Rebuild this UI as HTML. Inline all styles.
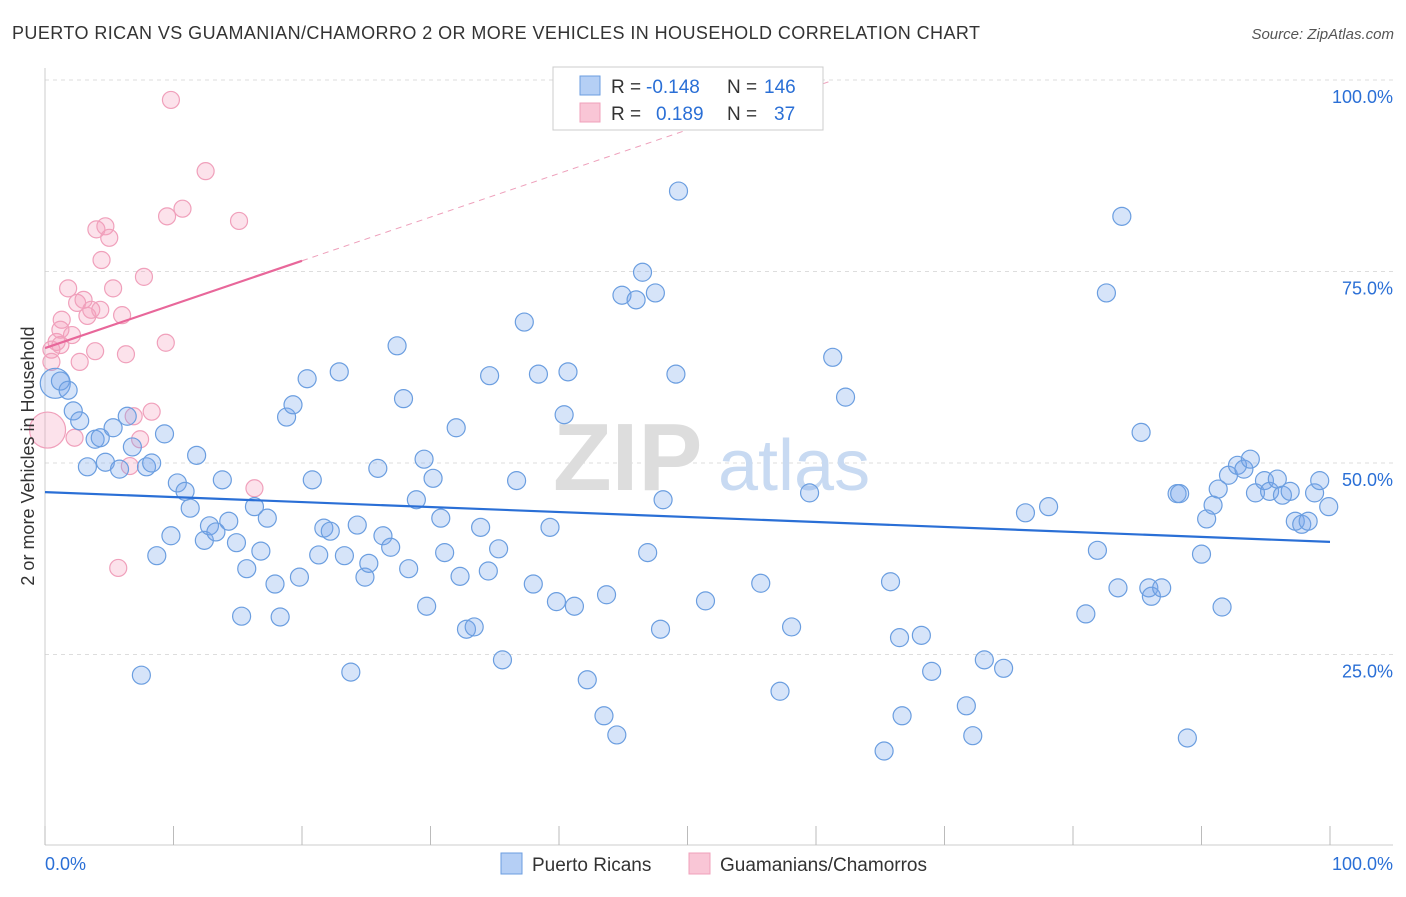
<!DOCTYPE html>
<html><head><meta charset="utf-8">
<style>
body{margin:0;background:#fff;font-family:"Liberation Sans",sans-serif;}
svg text{font-family:"Liberation Sans",sans-serif;}
</style></head>
<body>
<svg id="chart" width="1406" height="892" xmlns="http://www.w3.org/2000/svg">
<text x="12" y="39" font-size="18" fill="#333" textLength="968" lengthAdjust="spacing">PUERTO RICAN VS GUAMANIAN/CHAMORRO 2 OR MORE VEHICLES IN HOUSEHOLD CORRELATION CHART</text>
<text x="1394" y="39" font-size="15" fill="#555" text-anchor="end" font-style="italic">Source: ZipAtlas.com</text>
<g id="grid"></g>
<g><text x="553" y="490" font-size="96" fill="#ddd" font-family="Liberation Serif" font-weight="bold">ZIP</text><text x="718" y="490" font-size="72" fill="#c8daf2">atlas</text></g>
<line x1="45" y1="845" x2="1393" y2="845" stroke="#ccc"/>
<line x1="45" y1="68" x2="45" y2="845" stroke="#ccc"/>
<g id="ticks"></g>
<g id="pts"></g>
<g id="lines"></g>
<text transform="translate(34,456) rotate(-90)" font-size="18" fill="#333" text-anchor="middle">2 or more Vehicles in Household</text>
<text x="45" y="870" font-size="18" fill="#2a6fd6">0.0%</text>
<text x="1393" y="870" font-size="18" fill="#2a6fd6" text-anchor="end">100.0%</text>
<g>
<rect x="553" y="67" width="270" height="63" fill="#fff" stroke="#ccc"/>
<rect x="580" y="76" width="20" height="19" fill="#b5cff5" stroke="#6b9ee0"/>
<rect x="580" y="103" width="20" height="19" fill="#f9c6d6" stroke="#f0a0bb"/>
<text x="611" y="93" font-size="19" fill="#333">R =</text><text x="646" y="93" font-size="19" fill="#2a6fd6">-0.148</text>
<text x="727" y="93" font-size="19" fill="#333">N =</text><text x="764" y="93" font-size="19" fill="#2a6fd6">146</text>
<text x="611" y="120" font-size="19" fill="#333">R =</text><text x="656" y="120" font-size="19" fill="#2a6fd6">0.189</text>
<text x="727" y="120" font-size="19" fill="#333">N =</text><text x="774" y="120" font-size="19" fill="#2a6fd6">37</text>
</g>
<g><rect x="501" y="853" width="21" height="21" fill="#b5cff5" stroke="#6b9ee0"/><text x="532" y="871" font-size="19" fill="#333">Puerto Ricans</text></g>
<g><rect x="689" y="853" width="21" height="21" fill="#f9c6d6" stroke="#f0a0bb"/><text x="720" y="871" font-size="19" fill="#333">Guamanians/Chamorros</text></g>
</svg>
<script>
const blueX=[0.8,1.2,1.8,2.2,2.7,3.3,3.9,4.3,4.7,5.3,5.8,6.4,6.8,7.5,7.9,8.3,8.7,9.3,9.8,10.3,10.9,11.3,11.8,12.4,12.8,13.3,13.8,14.3,14.9,15.3,15.7,16.3,16.8,17.3,17.9,18.3,18.8,19.3,19.8,20.4,20.8,21.7,22.2,21.3,22.9,23.3,23.8,24.3,24.9,25.2,25.9,26.3,26.9,27.4,27.9,28.3,28.9,29.5,29.7,30.2,30.8,31.1,32.0,32.3,32.8,33.4,33.9,34.5,34.6,35.3,35.6,36.7,37.3,38.0,38.4,39.3,39.8,40.4,40.7,41.2,42.2,43.5,43.7,44.5,44.9,46.0,46.5,46.9,47.5,47.9,48.1,49.1,49.3,51.4,55.7,57.2,58.1,59.5,61.3,62.3,65.3,65.8,66.5,66.7,68.2,69.0,71.7,72.2,73.1,74.6,76.3,78.1,81.0,81.9,82.6,83.5,83.8,85.3,85.9,86.1,86.9,88.1,88.3,88.9,90.0,90.4,90.9,91.3,91.6,92.1,92.8,93.3,93.8,94.2,94.9,95.3,95.9,96.3,96.9,97.3,97.8,98.3,98.8,99.2,99.9];
const blueY=[60.4,60.7,59.5,56.8,55.5,49.5,53.1,53.3,50.1,54.6,49.2,56.1,52.1,22.3,49.5,50.0,37.9,53.8,40.5,47.4,46.3,44.1,51.0,39.9,41.8,41.0,47.8,42.4,39.6,30.0,36.2,44.3,38.5,42.8,34.2,29.9,56.0,57.6,35.1,61.0,47.8,41.5,41.1,38.0,61.9,37.9,22.7,41.9,35.1,36.9,49.3,40.5,39.0,65.3,58.4,36.2,45.2,50.5,31.3,48.0,42.8,38.3,54.6,35.2,28.3,28.6,41.6,35.9,61.4,38.8,24.3,47.7,68.4,34.2,61.6,41.6,31.9,56.3,61.9,31.3,21.7,17.0,32.8,14.5,71.9,71.3,74.9,38.3,72.2,28.3,45.2,61.6,85.5,32.0,34.3,20.2,28.6,46.1,63.8,58.6,12.4,34.5,27.2,17.0,27.5,22.8,18.3,14.4,24.3,23.2,43.5,44.3,30.3,38.6,72.2,33.7,82.2,54.0,33.7,32.6,33.7,46.0,46.0,14.1,38.1,42.7,44.5,46.6,31.2,48.4,49.7,49.2,50.5,46.1,47.7,46.3,47.9,45.8,46.3,42.4,42.0,42.4,46.1,47.7,44.3];
const pinkX=[0.2,0.5,0.9,1.2,1.3,1.8,2.1,2.5,2.7,3.0,3.3,3.6,3.9,4.0,4.3,4.4,4.7,5.0,5.3,5.7,6.0,6.3,6.6,6.9,7.4,7.7,8.3,9.4,9.5,9.8,10.7,12.5,15.1,16.3,2.3,0.5,1.2];
const pinkY=[54.3,64.8,65.8,65.4,68.7,72.8,66.7,70.9,63.2,71.3,69.2,70.0,64.6,80.5,70.0,76.5,80.9,79.4,72.8,36.3,69.3,64.2,49.6,56.1,53.1,74.3,56.7,65.7,82.2,97.4,83.2,88.1,81.6,46.7,53.3,63.2,67.4];
const yTicks=[25,50,75,100];
const yTickLabels=["25.0%","50.0%","75.0%","100.0%"];
const xTicks=[0,10,20,30,40,50,60,70,80,90,100];
const blueTrend=[46.2,39.7];
const pinkTrend=[65.0,76.4];
const NS="http://www.w3.org/2000/svg";
const sx=v=>45+v*12.85, sy=v=>846-v*7.66;
function mk(tag,attrs,parent){const e=document.createElementNS(NS,tag);for(const k in attrs)e.setAttribute(k,attrs[k]);parent.appendChild(e);return e;}
const grid=document.getElementById('grid');
yTicks.forEach((t,i)=>{
 const l=mk('line',{x1:45,x2:1393,y1:sy(t),y2:sy(t),stroke:'#ddd','stroke-dasharray':'4,4'},grid);
 
 
 const tx=mk('text',{x:1393,y:sy(t)+23,'font-size':18,fill:'#2a6fd6','text-anchor':'end'},grid);
 tx.textContent=yTickLabels[i];
 
 
});
const tk=document.getElementById('ticks');
xTicks.forEach(t=>{
 const l=mk('line',{x1:sx(t),x2:sx(t),y1:826,y2:845,stroke:'#bbb'},tk);
 
 
});
const pts=document.getElementById('pts');
pinkX.forEach((x,i)=>{
 const c=mk('circle',{cx:sx(x),cy:sy(pinkY[i]),r:i===0?18:8.5,fill:'rgba(245,160,190,0.3)',stroke:'#f0a0bb','stroke-width':1.2},pts);
 
 
});
blueX.forEach((x,i)=>{
 const c=mk('circle',{cx:sx(x),cy:sy(blueY[i]),r:i===0?15:9,fill:'rgba(120,165,235,0.3)',stroke:'#6b9ee0','stroke-width':1.2},pts);
 
 
});
const ln=document.getElementById('lines');
const b=mk('line',{x1:sx(0),y1:sy(blueTrend[0]),x2:sx(100),y2:sy(blueTrend[1]),stroke:'#2a6fd6','stroke-width':2.2},ln);


const slope=(pinkTrend[1]-pinkTrend[0])/20;
const pd=mk('line',{x1:sx(20),y1:sy(pinkTrend[1]),x2:sx(61),y2:sy(pinkTrend[0]+slope*61),stroke:'#eea0bb','stroke-width':1,'stroke-dasharray':'6,5'},ln);


const p=mk('line',{x1:sx(0),y1:sy(pinkTrend[0]),x2:sx(20),y2:sy(pinkTrend[1]),stroke:'#e8679a','stroke-width':2.2},ln);


</script>
</body></html>
